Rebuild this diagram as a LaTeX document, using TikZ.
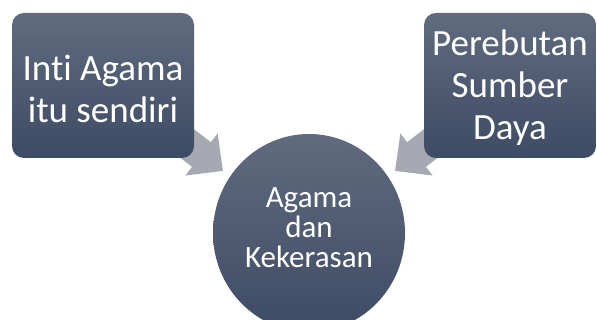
\documentclass[tikz,border=0pt]{standalone}
\usepackage{fontspec}
\setmainfont{Carlito}[Ligatures=NoCommon]
\definecolor{gtop}{RGB}{96,107,126}
\definecolor{gbot}{RGB}{61,75,101}
\definecolor{arrowgrey}{RGB}{166,169,177}
\tikzset{
  boxshape/.style={rounded corners=12pt, top color=gtop, bottom color=gbot, draw=none},
  boxtext/.style={text=white, align=center, font=\fontsize{37}{42}\selectfont},
  circtext/.style={text=white, align=center, font=\fontsize{31}{30}\selectfont},
  bigarrow/.style={fill=arrowgrey, draw=none}
}
\begin{document}
\begin{tikzpicture}[x=1pt,y=1pt]
\useasboundingbox (0,0) rectangle (597,320);
\clip (0,0) rectangle (597,320);
% arrows
\begin{scope}[shift={(201.5,165.5)}, rotate=-37.5]
  \fill[bigarrow] (-60,-15.5) -- (0,-15.5) -- (0,-26.5) -- (27,0) -- (0,26.5) -- (0,15.5) -- (-60,15.5) -- cycle;
\end{scope}
\begin{scope}[shift={(416.5,165.5)}, rotate=217.5]
  \fill[bigarrow] (-60,-15.5) -- (0,-15.5) -- (0,-26.5) -- (27,0) -- (0,26.5) -- (0,15.5) -- (-60,15.5) -- cycle;
\end{scope}
% boxes
\path[boxshape] (12,162) rectangle (194,307);
\node[boxtext] (inti) at (103,231) {Inti Agama\\itu sendiri};
\path[boxshape] (424,162) rectangle (596,307);
\node[boxtext] (pere) at (510,232) {Perebutan\\Sumber\\Daya};
% circle
\path[top color=gtop, bottom color=gbot] (309,87) ellipse [x radius=96, y radius=99];
\node[circtext] (agama) at (309,92) {Agama\\dan\\Kekerasan};
\end{tikzpicture}
\end{document}
